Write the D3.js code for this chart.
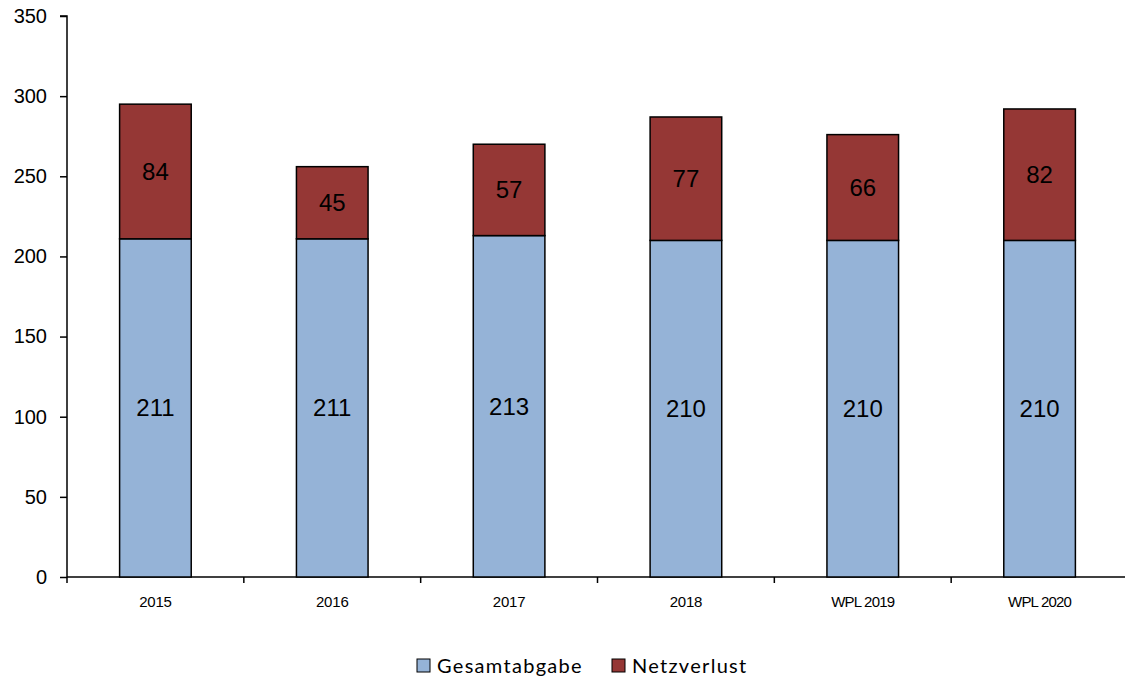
<!DOCTYPE html>
<html>
<head>
<meta charset="utf-8">
<script src="https://cdnjs.cloudflare.com/ajax/libs/d3/7.8.5/d3.min.js"></script>
<style>
  body { margin: 0; background: #fff; }
</style>
</head>
<body>
<div id="chart"></div>
<script>
// data
var categories = ["2015", "2016", "2017", "2018", "WPL 2019", "WPL 2020"];
var gesamtabgabe = [211, 211, 213, 210, 210, 210];
var netzverlust = [84, 45, 57, 77, 66, 82];
var seriesNames = ["Gesamtabgabe", "Netzverlust"];
var yTicks = [0, 50, 100, 150, 200, 250, 300, 350];

var svgWidth = 1125;
var svgHeight = 683;

var margin = { top: 16, right: 0, bottom: 106, left: 67 };
var chartWidth = 1128 - margin.left;
var chartHeight = 577 - margin.top;

var colors = { Gesamtabgabe: "#95b3d7", Netzverlust: "#953735" };

var svg = d3.select("#chart")
  .append("svg")
  .attr("width", svgWidth)
  .attr("height", svgHeight);

var chartGroup = svg.append("g")
  .attr("transform", `translate(${margin.left}, ${margin.top})`);

var xScale = d3.scaleBand()
  .domain(categories)
  .range([0, chartWidth])
  .padding(0);

var yScale = d3.scaleLinear()
  .domain([0, 350])
  .range([chartHeight, 0]);

var barWidth = xScale.bandwidth() * 0.405;

// build stacked table
var table = categories.map(function(c, i) {
  return { cat: c, Gesamtabgabe: gesamtabgabe[i], Netzverlust: netzverlust[i] };
});
var stacked = d3.stack().keys(seriesNames)(table);

// y axis
var leftAxis = d3.axisLeft(yScale).tickValues(yTicks).tickSize(7).tickPadding(13);
var yAxisG = chartGroup.append("g").call(leftAxis);
yAxisG.select(".domain").attr("stroke", "#000").attr("stroke-width", 1.5)
  .attr("d", `M0,${chartHeight}V0H-7`);
yAxisG.selectAll(".tick line").attr("stroke", "#000").attr("stroke-width", 1.5);
yAxisG.selectAll(".tick text")
  .attr("font-family", "Liberation Sans, Arial, sans-serif")
  .attr("font-size", "20px")
  .attr("fill", "#000");

// x axis line with ticks at category boundaries
var xAxisG = chartGroup.append("g")
  .attr("transform", `translate(0, ${chartHeight})`);
xAxisG.append("line")
  .attr("x1", 0).attr("x2", chartWidth)
  .attr("y1", 0).attr("y2", 0)
  .attr("stroke", "#000").attr("stroke-width", 1.5);
xAxisG.selectAll(".xtick")
  .data(categories)
  .enter()
  .append("line")
  .attr("x1", d => xScale(d))
  .attr("x2", d => xScale(d))
  .attr("y1", 0).attr("y2", 6)
  .attr("stroke", "#000").attr("stroke-width", 1.5);
xAxisG.selectAll(".xlabel")
  .data(categories)
  .enter()
  .append("text")
  .attr("x", d => xScale(d) + xScale.bandwidth() / 2)
  .attr("y", 30)
  .attr("text-anchor", "middle")
  .attr("font-family", "Liberation Sans, Arial, sans-serif")
  .attr("font-size", "15px")
  .attr("letter-spacing", d => d.indexOf("WPL") === 0 ? "-0.8px" : "-0.2px")
  .attr("fill", "#000")
  .text(d => d);

// bars
stacked.forEach(function(layer) {
  chartGroup.selectAll(".bar-" + layer.key)
    .data(layer)
    .enter()
    .append("rect")
    .attr("x", d => xScale(d.data.cat) + (xScale.bandwidth() - barWidth) / 2)
    .attr("y", d => yScale(d[1]))
    .attr("width", barWidth)
    .attr("height", d => yScale(d[0]) - yScale(d[1]))
    .attr("fill", colors[layer.key])
    .attr("stroke", "#000")
    .attr("stroke-width", 1.5);

  chartGroup.selectAll(".lab-" + layer.key)
    .data(layer)
    .enter()
    .append("text")
    .attr("x", d => xScale(d.data.cat) + xScale.bandwidth() / 2)
    .attr("y", d => yScale((d[0] + d[1]) / 2))
    .attr("dy", "0.35em")
    .attr("text-anchor", "middle")
    .attr("font-family", "Liberation Sans, Arial, sans-serif")
    .attr("font-size", "24px")
    .attr("fill", "#000")
    .text(d => d[1] - d[0]);
});

// legend
var legendX = [417, 612];
var legend = svg.selectAll(".legend")
  .data(seriesNames)
  .enter()
  .append("g")
  .attr("transform", (d, i) => `translate(${legendX[i]}, 659)`);
legend.append("rect")
  .attr("width", 13).attr("height", 13)
  .attr("fill", d => colors[d])
  .attr("stroke", "#000")
  .attr("stroke-width", 1);
legend.append("text")
  .attr("x", 20)
  .attr("y", 7)
  .attr("dy", "0.35em")
  .attr("font-family", "Lato, 'Open Sans', sans-serif")
  .attr("font-size", "20px")
  .attr("letter-spacing", "1.3px")
  .attr("fill", "#000")
  .text(d => d);
</script>
</body>
</html>
